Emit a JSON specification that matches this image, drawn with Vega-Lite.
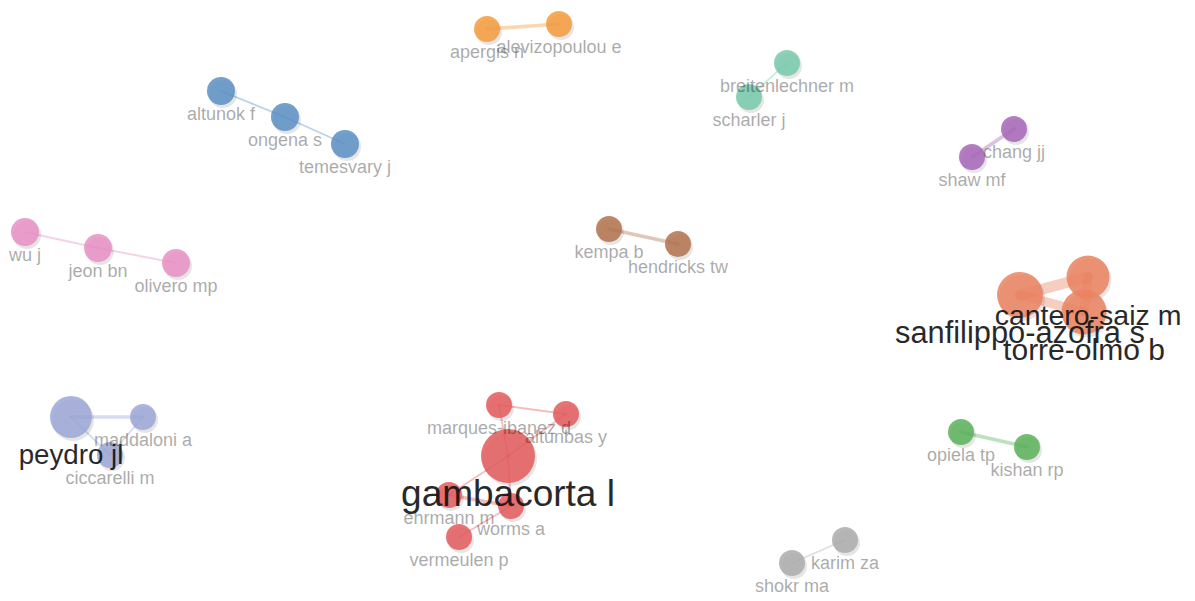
{
  "$schema": "https://vega.github.io/schema/vega-lite/v6.json",
  "width": 1195,
  "height": 601,
  "autosize": {"type": "fit", "contains": "padding"},
  "padding": 0,
  "background": "#ffffff",
  "config": {"view": {"stroke": null}},
  "datasets": {
    "nodes": [
      {"id": "gambacorta l", "cluster": "1", "x": 508, "y": 456, "weight": 27},
      {"id": "marques-ibanez d", "cluster": "1", "x": 499, "y": 405, "weight": 13},
      {"id": "altunbas y", "cluster": "1", "x": 566, "y": 414, "weight": 13},
      {"id": "ehrmann m", "cluster": "1", "x": 449, "y": 495, "weight": 13},
      {"id": "worms a", "cluster": "1", "x": 511, "y": 506, "weight": 13},
      {"id": "vermeulen p", "cluster": "1", "x": 459, "y": 537, "weight": 13},
      {"id": "opiela tp", "cluster": "2", "x": 961, "y": 432, "weight": 13},
      {"id": "kishan rp", "cluster": "2", "x": 1027, "y": 447, "weight": 13},
      {"id": "altunok f", "cluster": "3", "x": 221, "y": 91, "weight": 14},
      {"id": "ongena s", "cluster": "3", "x": 285, "y": 117, "weight": 14},
      {"id": "temesvary j", "cluster": "3", "x": 345, "y": 144, "weight": 14},
      {"id": "apergis n", "cluster": "4", "x": 487, "y": 29, "weight": 13},
      {"id": "alevizopoulou e", "cluster": "4", "x": 559, "y": 24, "weight": 13},
      {"id": "chang jj", "cluster": "5", "x": 1014, "y": 129, "weight": 13},
      {"id": "shaw mf", "cluster": "5", "x": 972, "y": 157, "weight": 13},
      {"id": "breitenlechner m", "cluster": "6", "x": 787, "y": 63, "weight": 13},
      {"id": "scharler j", "cluster": "6", "x": 749, "y": 97, "weight": 13},
      {"id": "kempa b", "cluster": "7", "x": 609, "y": 229, "weight": 13},
      {"id": "hendricks tw", "cluster": "7", "x": 678, "y": 244, "weight": 13},
      {"id": "wu j", "cluster": "8", "x": 25, "y": 232, "weight": 14},
      {"id": "jeon bn", "cluster": "8", "x": 98, "y": 248, "weight": 14},
      {"id": "olivero mp", "cluster": "8", "x": 176, "y": 263, "weight": 14},
      {"id": "karim za", "cluster": "9", "x": 845, "y": 540, "weight": 13},
      {"id": "shokr ma", "cluster": "9", "x": 792, "y": 563, "weight": 13},
      {"id": "cantero-saiz m", "cluster": "10", "x": 1088, "y": 277, "weight": 21.5},
      {"id": "sanfilippo-azofra s", "cluster": "10", "x": 1020, "y": 295, "weight": 23},
      {"id": "torre-olmo b", "cluster": "10", "x": 1084, "y": 312, "weight": 22.5},
      {"id": "peydro jl", "cluster": "11", "x": 71, "y": 417, "weight": 21},
      {"id": "maddaloni a", "cluster": "11", "x": 143, "y": 417, "weight": 13},
      {"id": "ciccarelli m", "cluster": "11", "x": 110, "y": 455, "weight": 13}
    ],
    "edges": [
      {"source": "gambacorta l", "target": "marques-ibanez d", "cluster": "1", "strength": 1},
      {"source": "gambacorta l", "target": "altunbas y", "cluster": "1", "strength": 1},
      {"source": "marques-ibanez d", "target": "altunbas y", "cluster": "1", "strength": 1},
      {"source": "gambacorta l", "target": "ehrmann m", "cluster": "1", "strength": 1},
      {"source": "gambacorta l", "target": "worms a", "cluster": "1", "strength": 1},
      {"source": "ehrmann m", "target": "worms a", "cluster": "1", "strength": 2},
      {"source": "worms a", "target": "vermeulen p", "cluster": "1", "strength": 1},
      {"source": "opiela tp", "target": "kishan rp", "cluster": "2", "strength": 2},
      {"source": "altunok f", "target": "ongena s", "cluster": "3", "strength": 1},
      {"source": "ongena s", "target": "temesvary j", "cluster": "3", "strength": 1},
      {"source": "apergis n", "target": "alevizopoulou e", "cluster": "4", "strength": 2},
      {"source": "chang jj", "target": "shaw mf", "cluster": "5", "strength": 2},
      {"source": "breitenlechner m", "target": "scharler j", "cluster": "6", "strength": 1},
      {"source": "kempa b", "target": "hendricks tw", "cluster": "7", "strength": 2},
      {"source": "wu j", "target": "jeon bn", "cluster": "8", "strength": 1},
      {"source": "jeon bn", "target": "olivero mp", "cluster": "8", "strength": 1},
      {"source": "karim za", "target": "shokr ma", "cluster": "9", "strength": 1},
      {"source": "cantero-saiz m", "target": "sanfilippo-azofra s", "cluster": "10", "strength": 6},
      {"source": "sanfilippo-azofra s", "target": "torre-olmo b", "cluster": "10", "strength": 5},
      {"source": "cantero-saiz m", "target": "torre-olmo b", "cluster": "10", "strength": 5},
      {"source": "peydro jl", "target": "maddaloni a", "cluster": "11", "strength": 2},
      {"source": "peydro jl", "target": "ciccarelli m", "cluster": "11", "strength": 1},
      {"source": "maddaloni a", "target": "ciccarelli m", "cluster": "11", "strength": 1}
    ]
  },
  "layer": [
    {
      "data": {"name": "edges"},
      "transform": [
        {"lookup": "source", "from": {"data": {"name": "nodes"}, "key": "id", "fields": ["x", "y"]}, "as": ["sx", "sy"]},
        {"lookup": "target", "from": {"data": {"name": "nodes"}, "key": "id", "fields": ["x", "y"]}, "as": ["tx", "ty"]}
      ],
      "mark": {"type": "rule", "opacity": 0.4, "strokeCap": "round"},
      "encoding": {
        "x": {"field": "sx", "type": "quantitative", "scale": {"domain": [0, 1195], "nice": false, "zero": false}, "axis": null},
        "y": {"field": "sy", "type": "quantitative", "scale": {"domain": [0, 601], "nice": false, "zero": false, "reverse": true}, "axis": null},
        "x2": {"field": "tx"},
        "y2": {"field": "ty"},
        "color": {"field": "cluster", "type": "nominal", "legend": null,
          "scale": {"domain": ["1","2","3","4","5","6","7","8","9","10","11"],
                    "range": ["#e45a5d","#5ab25a","#5a8fc4","#f49b3d","#a766b8","#78caac","#b2724e","#e78fc4","#acacac","#eb8360","#9ba7d6"]}},
        "strokeWidth": {"field": "strength", "type": "quantitative", "legend": null, "scale": {"domain": [0, 6], "range": [0, 11]}}
      }
    },
    {
      "data": {"name": "nodes"},
      "mark": {"type": "circle", "color": "#000000", "opacity": 0.1, "xOffset": 2, "yOffset": 3, "stroke": null},
      "encoding": {
        "x": {"field": "x", "type": "quantitative"},
        "y": {"field": "y", "type": "quantitative"},
        "size": {"field": "weight", "type": "quantitative", "legend": null, "scale": {"type": "pow", "exponent": 2, "domain": [0, 30], "range": [0, 3600]}}
      }
    },
    {
      "data": {"name": "nodes"},
      "mark": {"type": "circle", "opacity": 0.85, "stroke": null},
      "encoding": {
        "x": {"field": "x", "type": "quantitative"},
        "y": {"field": "y", "type": "quantitative"},
        "color": {"field": "cluster", "type": "nominal", "legend": null},
        "size": {"field": "weight", "type": "quantitative", "legend": null, "scale": {"type": "pow", "exponent": 2, "domain": [0, 30], "range": [0, 3600]}}
      }
    },
    {
      "data": {"name": "nodes"},
      "transform": [{"filter": "datum.weight < 19"}],
      "mark": {"type": "text", "font": "Liberation Sans", "fontSize": 18, "fill": "#000000", "opacity": 0.33, "baseline": "middle", "align": "center", "dy": 24},
      "encoding": {
        "x": {"field": "x", "type": "quantitative"},
        "y": {"field": "y", "type": "quantitative"},
        "text": {"field": "id"}
      }
    },
    {
      "data": {"name": "nodes"},
      "transform": [{"filter": "datum.weight >= 19"}],
      "mark": {"type": "text", "font": "Liberation Sans", "fill": "#111111", "opacity": 0.9, "baseline": "middle", "align": "center", "dy": 39},
      "encoding": {
        "x": {"field": "x", "type": "quantitative"},
        "y": {"field": "y", "type": "quantitative"},
        "text": {"field": "id"},
        "size": {"field": "weight", "type": "quantitative", "legend": null, "scale": {"domain": [21, 27], "range": [27.7, 37]}}
      }
    }
  ],
  "resolve": {"scale": {"size": "independent", "strokeWidth": "independent"}}
}
